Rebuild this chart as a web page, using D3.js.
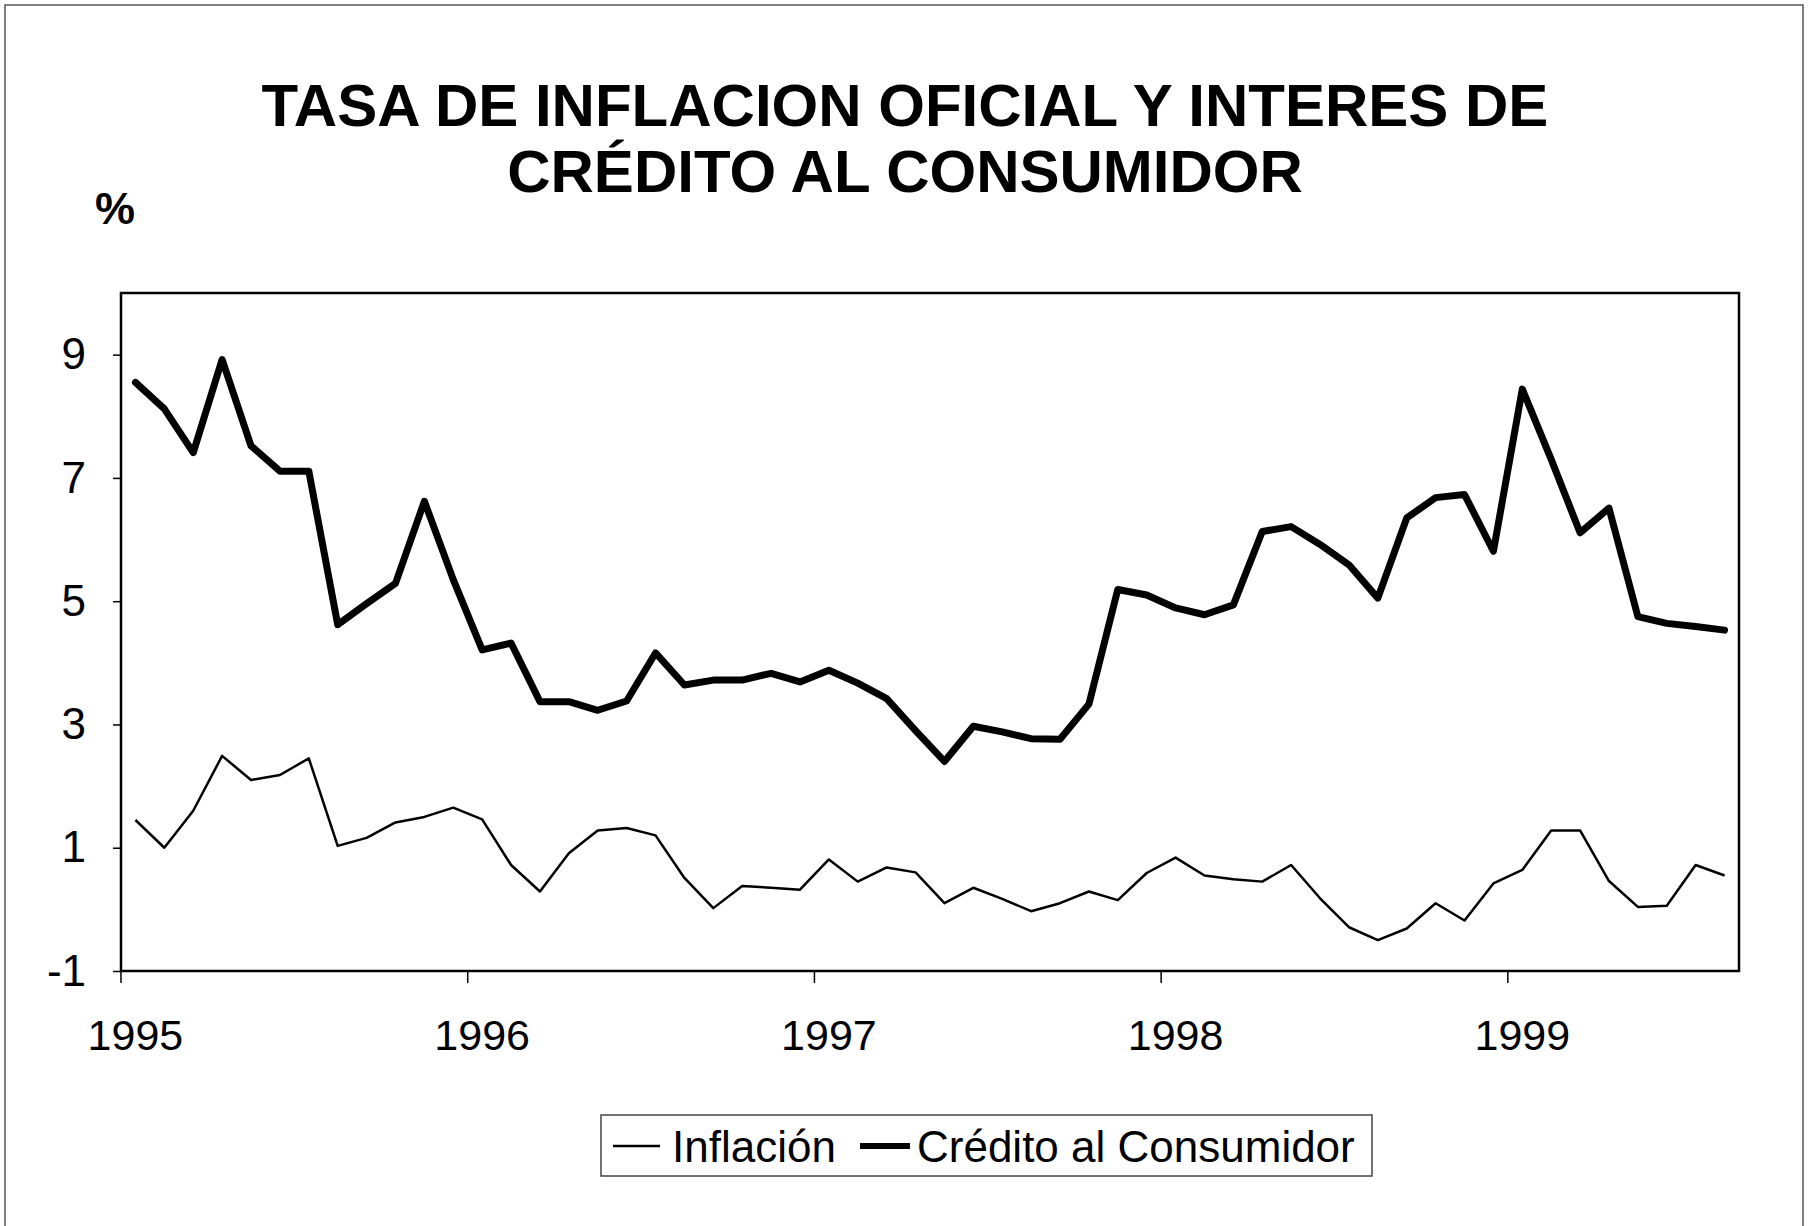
<!DOCTYPE html>
<html lang="es">
<head>
    <meta charset="UTF-8">
    <title>Tasa de inflacion oficial y interes de credito al consumidor</title>
    <script src="https://d3js.org/d3.v7.min.js"></script>
    <style>
        body { margin: 0; background: #fff; }
        svg { display: block; font-family: "Liberation Sans", Arial, sans-serif; }
    </style>
</head>
<body>
    <div id="chart"></div>
    <script>
// monthly values, Jan 1995 - Aug 1999
var credito = [8.55, 8.12, 7.41, 8.92, 7.52, 7.11, 7.11, 4.62, 4.96, 5.29, 6.62, 5.35,
               4.21, 4.32, 3.37, 3.37, 3.23, 3.38, 4.16, 3.64, 3.72, 3.72, 3.83, 3.69,
               3.88, 3.67, 3.42, 2.9, 2.4, 2.97, 2.88, 2.77, 2.76, 3.33, 5.19, 5.1,
               4.89, 4.78, 4.94, 6.13, 6.21, 5.92, 5.59, 5.05, 6.35, 6.68, 6.73, 5.81,
               8.44, 7.3, 6.11, 6.51, 4.75, 4.64, 4.59, 4.53];
var inflacion = [1.45, 1.0, 1.6, 2.49, 2.1, 2.18, 2.45, 1.03, 1.16, 1.41, 1.5, 1.65,
                 1.46, 0.72, 0.29, 0.91, 1.28, 1.32, 1.2, 0.51, 0.02, 0.38, 0.35, 0.32,
                 0.81, 0.45, 0.68, 0.6, 0.1, 0.35, 0.17, -0.03, 0.1, 0.29, 0.15, 0.59,
                 0.84, 0.55, 0.49, 0.45, 0.72, 0.18, -0.29, -0.5, -0.31, 0.1, -0.18, 0.42,
                 0.64, 1.28, 1.28, 0.46, 0.04, 0.06, 0.72, 0.55];
var yearLabels = ["1995", "1996", "1997", "1998", "1999"];
var yTicks = [-1, 1, 3, 5, 7, 9];
var months = d3.timeMonth.range(new Date(1995, 0, 1), new Date(1999, 8, 1));

var W = 1815, H = 1226;
var plot = {left: 121, right: 1739, top: 293, bottom: 971};

var svg = d3.select("#chart")
  .append("svg")
    .attr("width", W)
    .attr("height", H);

// outer frame of the scanned page
svg.append("rect")
  .attr("x", 5).attr("y", 5)
  .attr("width", 1798).attr("height", 1240)
  .attr("fill", "none")
  .attr("stroke", "#555")
  .attr("stroke-width", 1.5);

svg.append("text")
  .attr("x", 905).attr("y", 126)
  .attr("text-anchor", "middle")
  .attr("font-size", 60).attr("font-weight", "bold")
  .text("TASA DE INFLACION OFICIAL Y INTERES DE");
svg.append("text")
  .attr("x", 905).attr("y", 192)
  .attr("text-anchor", "middle")
  .attr("font-size", 60).attr("font-weight", "bold")
  .text("CRÉDITO AL CONSUMIDOR");

svg.append("text")
  .attr("x", 95).attr("y", 224)
  .attr("font-size", 45).attr("font-weight", "bold")
  .text("%");

var x = d3.scaleBand()
  .domain(months)
  .range([plot.left, plot.right]);
var bw = x.bandwidth();

var y = d3.scaleLinear()
  .domain([-1, 10])
  .range([plot.bottom, plot.top]);

// y axis (plain hyphen for negatives, as in the original)
var yAxis = svg.append("g")
  .attr("transform", "translate(" + plot.left + ",0)")
  .call(d3.axisLeft(y)
    .tickValues(yTicks)
    .tickSize(8)
    .tickPadding(27)
    .tickFormat(function(d) { return String(d); }));
yAxis.select(".domain").remove();
yAxis.selectAll("line").attr("stroke", "#000").attr("stroke-width", 1.5);
yAxis.selectAll("text")
  .attr("font-size", 44)
  .attr("font-family", "Liberation Sans, Arial, sans-serif")
  .attr("fill", "#000");

// x axis: tick marks between categories, year labels under January
var janMonths = months.filter(function(d) { return d.getMonth() == 0; });
var xAxis = svg.append("g")
  .attr("transform", "translate(0," + plot.bottom + ")")
  .call(d3.axisBottom(x)
    .tickValues(janMonths)
    .tickSize(12)
    .tickFormat(function(d, i) { return yearLabels[i]; }));
xAxis.select(".domain").remove();
xAxis.selectAll("line")
  .attr("x1", -bw / 2).attr("x2", -bw / 2)
  .attr("stroke", "#000").attr("stroke-width", 1.5);
xAxis.selectAll("text")
  .attr("y", 79).attr("dy", 0)
  .attr("font-size", 43)
  .attr("font-family", "Liberation Sans, Arial, sans-serif")
  .attr("fill", "#000");

// plot area border
svg.append("rect")
  .attr("x", plot.left).attr("y", plot.top)
  .attr("width", plot.right - plot.left)
  .attr("height", plot.bottom - plot.top)
  .attr("fill", "none")
  .attr("stroke", "#000")
  .attr("stroke-width", 2.5);

var line = d3.line()
  .x(function(d, i) { return x(months[i]) + bw / 2; })
  .y(function(d) { return y(d); });

svg.append("path")
  .datum(inflacion)
  .attr("fill", "none")
  .attr("stroke", "#000")
  .attr("stroke-width", 2.5)
  .attr("stroke-linejoin", "round")
  .attr("d", line);

svg.append("path")
  .datum(credito)
  .attr("fill", "none")
  .attr("stroke", "#000")
  .attr("stroke-width", 7)
  .attr("stroke-linejoin", "round")
  .attr("stroke-linecap", "round")
  .attr("d", line);

// legend
var legend = svg.append("g");
legend.append("rect")
  .attr("x", 601).attr("y", 1115)
  .attr("width", 771).attr("height", 61)
  .attr("fill", "#fff")
  .attr("stroke", "#444")
  .attr("stroke-width", 1.5);
legend.append("line")
  .attr("x1", 613).attr("x2", 660)
  .attr("y1", 1146).attr("y2", 1146)
  .attr("stroke", "#000").attr("stroke-width", 2.5);
legend.append("text")
  .attr("x", 672).attr("y", 1162)
  .attr("font-size", 44)
  .text("Inflación");
legend.append("line")
  .attr("x1", 860).attr("x2", 910)
  .attr("y1", 1146).attr("y2", 1146)
  .attr("stroke", "#000").attr("stroke-width", 6);
legend.append("text")
  .attr("x", 917).attr("y", 1162)
  .attr("font-size", 44)
  .text("Crédito al Consumidor");
    </script>
</body>
</html>
